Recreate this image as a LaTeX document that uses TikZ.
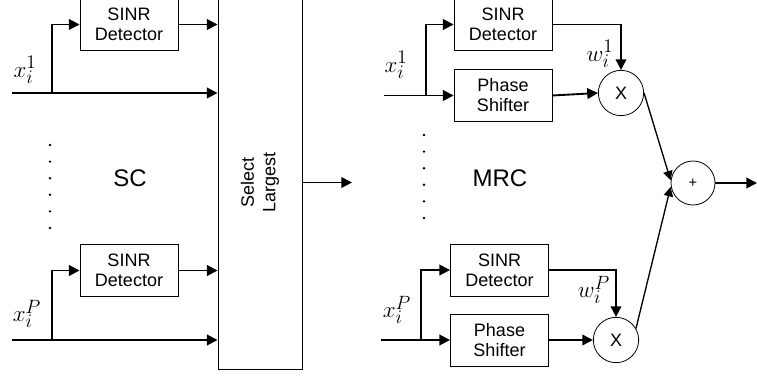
\documentclass[tikz,border=0pt]{standalone}
\usepackage{fontspec}
\setmainfont{Liberation Sans}
\usepackage{tikz}
\usetikzlibrary{shapes.geometric, arrows.meta, positioning, calc}

\begin{document}
\begin{tikzpicture}[x=0.75pt, y=-0.75pt]
% Define styles
\tikzstyle{detbox} = [rectangle, minimum width=73.5pt, minimum height=39pt, text centered, draw=black, line width=0.7pt, font=\fontsize{13.5}{15}\selectfont, align=center, inner sep=0pt]
\tikzstyle{selbox} = [rectangle, minimum width=63pt, minimum height=281pt, draw=black, line width=0.7pt, inner sep=0pt]
\tikzstyle{mult} = [circle, minimum size=34pt, draw=black, line width=0.6pt, inner sep=0pt, font=\fontsize{13.5}{15}\selectfont]
\tikzstyle{arrow} = [line width=1.4pt, -{Triangle[length=8pt,width=8pt]}]
\tikzstyle{thinarrow} = [line width=1pt, -{Triangle[length=7pt,width=7pt]}]
\tikzstyle{sig} = [font=\fontsize{19}{21}\selectfont, inner sep=0pt]
\tikzstyle{big} = [font=\fontsize{18}{20}\selectfont]

\useasboundingbox (0,0) rectangle (757,378);
\clip (0,0) rectangle (757,378);

% SC (left)
\node (detA) [detbox] at (129,24.5) {SINR\\Detector};
\node (detB) [detbox] at (129,270.5) {SINR\\Detector};
\node (sel) [selbox] at (260,182.5) {};
\node [rotate=90, align=center, font=\fontsize{13.5}{16}\selectfont] at (sel.center) {Select\\Largest};
\coordinate (inA) at (12,93);
\coordinate (brA) at (52,93);
\coordinate (inB) at (12,340);
\coordinate (brB) at (52,340);
\coordinate (outL) at (352,182.5);

\draw [arrow] (inA) -- (sel.west |- inA);
\draw [arrow] (brA) |- (detA.west);
\draw [arrow] (detA.east) -- (sel.west |- detA);
\draw [arrow] (inB) -- (sel.west |- inB);
\draw [arrow] (brB) |- (detB.west);
\draw [arrow] (detB.east) -- (sel.west |- detB);
\draw [arrow] (sel.east) -- (outL);

\node (xA) [sig] at (25,70) {$x_i^1$};
\node (xB) [sig] at (27,314) {$x_i^P$};
\foreach \k in {0,...,5}
  \fill (50,145+16.6*\k) circle (1pt);
\node (sc) [big] at (130,178) {SC};

% MRC (right)
\node (detC) [detbox] at (503,24.5) {SINR\\Detector};
\node (phC) [detbox] at (503,95.5) {Phase\\Shifter};
\node (mulA) [mult] at (621,93) {X};
\node (detD) [detbox] at (499.5,270) {SINR\\Detector};
\node (phD) [detbox] at (499.5,340) {Phase\\Shifter};
\node (mulB) [mult] at (616,340) {X};
\node (add) [circle, minimum size=33pt, draw=black, line width=0.6pt, inner sep=0pt, font=\fontsize{11}{12}\selectfont] at (693,183) {+};
\coordinate (inC) at (384,95.5);
\coordinate (brC) at (426,95.5);
\coordinate (inD) at (381,340);
\coordinate (brD) at (421,340);
\coordinate (outR) at (757,183);

\draw [arrow] (inC) -- (phC.west);
\draw [arrow] (brC) |- (detC.west);
\draw [arrow] (phC.east) -- (mulA.west);
\draw [arrow] (detC.east) -| (mulA.north);
\draw [arrow] (inD) -- (phD.west);
\draw [arrow] (brD) |- (detD.west);
\draw [arrow] (phD.east) -- (mulB.west);
\draw [arrow] (detD.east) -| (mulB.north);
\draw [thinarrow] (mulA.east) -- ([yshift=2pt]add.west);
\draw [thinarrow] (mulB.30) -- ([yshift=-3pt]add.west);
\draw [arrow] (add.east) -- (outR);

\node (xC) [sig] at (396,65) {$x_i^1$};
\node (xD) [sig] at (397,310) {$x_i^P$};
\node (wA) [sig] at (600,54) {$w_i^1$};
\node (wD) [sig] at (594,290) {$w_i^P$};
\foreach \k in {0,...,5}
  \fill (424,135+16.6*\k) circle (1pt);
\node (mrc) [big] at (500,178) {MRC};

\end{tikzpicture}
\end{document}
